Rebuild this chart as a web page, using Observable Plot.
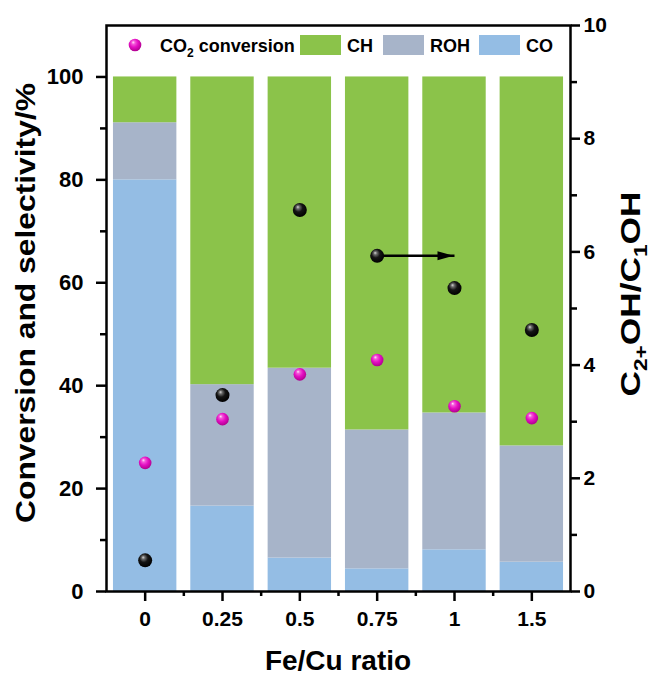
<!DOCTYPE html>
<html><head><meta charset="utf-8">
<script src="https://cdn.jsdelivr.net/npm/d3@7"></script>
<script src="https://cdn.jsdelivr.net/npm/@observablehq/plot@0.6"></script>
<style>
html,body{margin:0;padding:0;background:#fff;}
#chart{width:651px;height:678px;}
</style></head><body><div id="chart"></div>
<script>
// ---- data ----
const ratios = ["0", "0.25", "0.5", "0.75", "1", "1.5"];          // Fe/Cu ratio categories
const components = ["CO", "ROH", "CH"];                              // stack order, bottom to top
const coSel  = [80.0, 16.6, 6.5, 4.4, 8.1, 5.7];                     // CO selectivity %
const rohSel = [11.1, 23.6, 36.9, 27.0, 26.6, 22.6];                 // ROH selectivity %
const chSel  = [8.9, 59.8, 56.6, 68.6, 65.3, 71.7];                  // CH selectivity %
const conversion = [25.0, 33.5, 42.2, 45.0, 36.0, 33.7];             // CO2 conversion %
const alcoholRatio = [0.55, 3.47, 6.74, 5.93, 5.36, 4.62];           // C2+OH/C1OH (right axis)
const leftTicks = [0, 20, 40, 60, 80, 100];
const rightTicks = [0, 2, 4, 6, 8, 10];
const arrowFrom = "0.75", arrowTo = "1";                              // arrow pointing to right axis

// ---- derived tables ----
const rightToLeft = 11; // right axis 0–10 spans left axis 0–110
const series = {CO: coSel, ROH: rohSel, CH: chSel};
const rows = [];
ratios.forEach((r, i) => {
  let base = 0;
  for (const c of components) {
    const v = series[c][i];
    rows.push({i, ratio: r, comp: c, y1: base, y2: base + v});
    base += v;
  }
});
const convData = ratios.map((r, i) => ({i, v: conversion[i]}));
const ratioData = ratios.map((r, i) => ({i, v: alcoholRatio[i]}));
const ai = ratios.indexOf(arrowFrom), bi = ratios.indexOf(arrowTo);
const arrowData = [{from: ai, to: bi, y: alcoholRatio[ai] * rightToLeft}];
const half = 0.41;

const arrowHead = {draw(ctx) { ctx.moveTo(0, 0); ctx.lineTo(-16, -4.5); ctx.lineTo(-16, 4.5); ctx.closePath(); }};

const colors = ["#94BDE4", "#A7B4C9", "#8BC34A"];
const FONT = "'Liberation Sans', Arial, Helvetica, sans-serif";

const plot = Plot.plot({
  width: 651, height: 678,
  marginLeft: 106, marginRight: 81, marginTop: 25, marginBottom: 87,
  x: {domain: [-0.5, ratios.length - 0.5]},
  y: {domain: [0, 110]},
  color: {domain: components, range: colors},
  style: {fontFamily: FONT, fontWeight: "bold", fontSize: "21px", color: "#000", background: "#fff", overflow: "visible"},
  marks: [
    Plot.rect(rows, {x1: d => d.i - half, x2: d => d.i + half, y1: "y1", y2: "y2", fill: "comp"}),
    Plot.link(arrowData, {x1: "from", x2: "to", y1: "y", y2: "y", stroke: "#000", strokeWidth: 2.5}),
    Plot.dot(arrowData, {x: "to", y: "y", symbol: arrowHead, fill: "#000", stroke: "none", dx: -1}),
    Plot.dot(ratioData, {x: "i", y: d => d.v * rightToLeft, r: 7, fill: "url(#gradBlack)", stroke: "none"}),
    Plot.dot(convData, {x: "i", y: "v", r: 6.3, fill: "url(#gradPink)", stroke: "none"}),
    Plot.frame({stroke: "#000", strokeWidth: 2.5}),
    // left axis
    Plot.axisY({ticks: leftTicks, tickSize: 10, tickPadding: 13, strokeWidth: 2.5, label: null, fontSize: 22}),
    Plot.axisY({ticks: d3.range(10, 100, 20), tickSize: 6, strokeWidth: 2.5, tickFormat: () => "", label: null}),
    // right axis
    Plot.axisY({anchor: "right", ticks: rightTicks.map(t => t * rightToLeft), tickFormat: d => d / rightToLeft,
      tickSize: 9, tickPadding: 4, strokeWidth: 2.5, label: null, fontSize: 21}),
    Plot.axisY({anchor: "right", ticks: d3.range(1, 10, 2).map(t => t * rightToLeft), tickSize: 6, strokeWidth: 2.5,
      tickFormat: () => "", label: null}),
    // bottom axis
    Plot.axisX({ticks: d3.range(ratios.length), tickFormat: i => ratios[i], tickSize: 10, tickPadding: 10,
      strokeWidth: 2.5, label: null, fontSize: 21}),
    Plot.axisX({ticks: d3.range(ratios.length - 1).map(i => i + 0.5), tickSize: 5, strokeWidth: 2.5,
      tickFormat: () => "", label: null})
  ]
});
document.getElementById("chart").appendChild(plot);

const svg = d3.select(plot);
const defs = svg.insert("defs", ":first-child");
function sphere(id, stops) {
  const g = defs.append("radialGradient").attr("id", id)
    .attr("cx", "45%").attr("cy", "40%").attr("r", "60%").attr("fx", "35%").attr("fy", "28%");
  stops.forEach(([o, c]) => g.append("stop").attr("offset", o).attr("stop-color", c));
}
sphere("gradPink", [["0%", "#ffe6fa"], ["22%", "#f45ad9"], ["55%", "#e510c4"], ["100%", "#b0008f"]]);
sphere("gradBlack", [["0%", "#d8d8d8"], ["20%", "#6a6a6a"], ["50%", "#151515"], ["100%", "#000"]]);

// legend (inside the frame, top)
const lg = svg.append("g").attr("font-family", FONT).attr("font-weight", "bold").attr("font-size", 18)
  .attr("fill", "#000").attr("text-anchor", "start");
lg.append("circle").attr("cx", 135).attr("cy", 45).attr("r", 6.3).attr("fill", "url(#gradPink)");
const t1 = lg.append("text").attr("x", 160).attr("y", 51.5);
t1.append("tspan").text("CO");
t1.append("tspan").attr("font-size", 12).attr("dy", 5).text("2");
t1.append("tspan").attr("dy", -5).text(" conversion");
const legendItems = [["CH", 300], ["ROH", 383], ["CO", 479]];
legendItems.forEach(([name, x]) => {
  const idx = components.indexOf(name);
  lg.append("rect").attr("x", x).attr("y", 35).attr("width", 41).attr("height", 20).attr("fill", colors[idx]);
  lg.append("text").attr("x", x + 47).attr("y", 51.5).text(name);
});

// axis titles
const tg = svg.append("g").attr("font-family", FONT).attr("font-weight", "bold").attr("fill", "#000");
tg.append("text").attr("x", 338).attr("y", 670).attr("text-anchor", "middle").attr("font-size", 28).text("Fe/Cu ratio");
tg.append("text").attr("transform", "translate(35,303) rotate(-90)").attr("text-anchor", "middle")
  .attr("font-size", 28).attr("textLength", 440).attr("lengthAdjust", "spacingAndGlyphs")
  .text("Conversion and selectivity/%");
const rt = tg.append("text").attr("transform", "translate(640,294) rotate(-90)").attr("text-anchor", "middle")
  .attr("font-size", 28).attr("textLength", 205).attr("lengthAdjust", "spacingAndGlyphs");
rt.append("tspan").text("C");
rt.append("tspan").attr("font-size", 18).attr("dy", 7).text("2+");
rt.append("tspan").attr("dy", -7).text("OH/C");
rt.append("tspan").attr("font-size", 18).attr("dy", 7).text("1");
rt.append("tspan").attr("dy", -7).text("OH");
</script></body></html>
